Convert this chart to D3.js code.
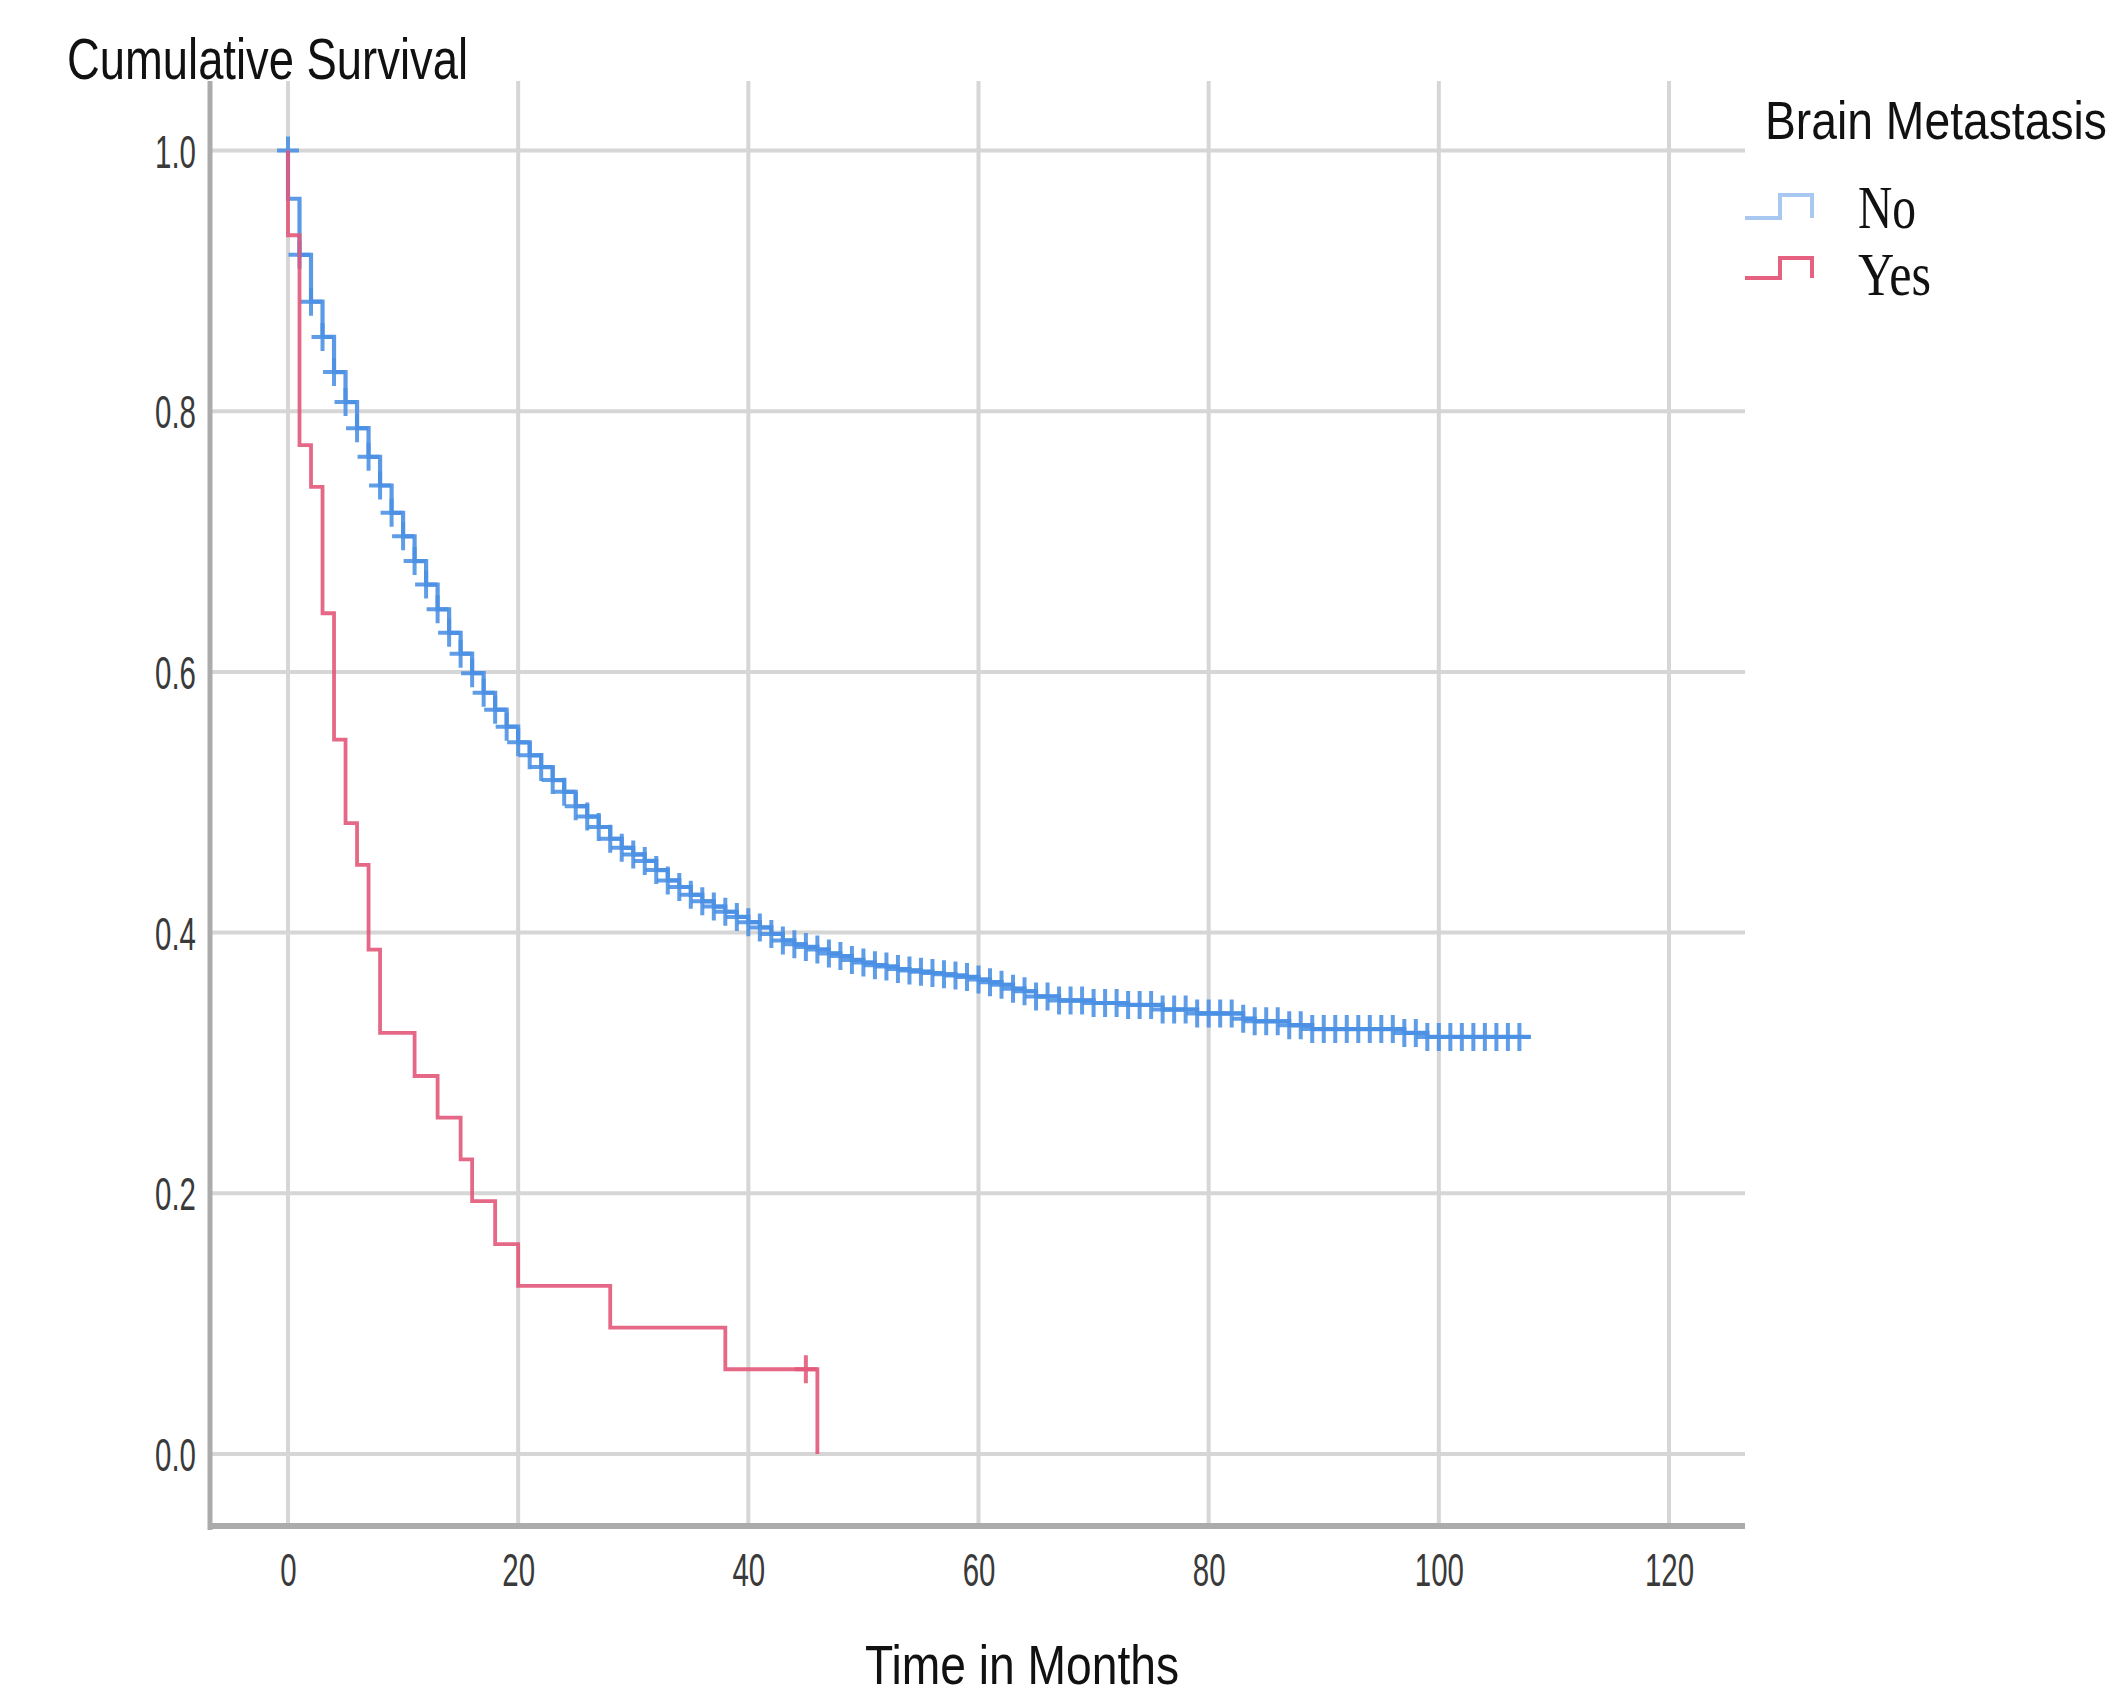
<!DOCTYPE html>
<html>
<head>
<meta charset="utf-8">
<script src="https://cdn.jsdelivr.net/npm/d3@7"></script>
<style>
  html, body { margin: 0; padding: 0; background: #fff; }
  svg { display: block; }
</style>
</head>
<body>
<div id="chart"></div>
<script>
// ── data ──
const xTicks = [0, 20, 40, 60, 80, 100, 120];
const yTicks = [0.0, 0.2, 0.4, 0.6, 0.8, 1.0];

// Brain Metastasis = Yes (step times, survival after step)
const yesTime = [0, 0, 1, 2, 3, 4, 5, 6, 7, 8, 11, 13, 15, 16, 18, 20, 28, 38, 46];
const yesSurv = [1.0, 0.935, 0.774, 0.742, 0.645, 0.548, 0.484, 0.452, 0.387, 0.323,
                 0.290, 0.258, 0.226, 0.194, 0.161, 0.129, 0.097, 0.065, 0.0];
const yesCensor = [45];

// Brain Metastasis = No (monthly steps)
const noTime = [0, 0, 1, 2, 3, 4, 5, 6, 7, 8, 9, 10, 11, 12, 13, 14, 15, 16, 17, 18, 19,
  20, 21, 22, 23, 24, 25, 26, 27, 28, 29, 30, 31, 32, 33, 34, 35, 36, 37, 38, 39,
  40, 41, 42, 43, 44, 45, 46, 47, 48, 49, 50, 51, 52, 53, 54, 55, 56, 57, 58, 59,
  60, 61, 62, 63, 64, 65, 67, 70, 73, 76, 79, 83, 84, 87, 89, 97, 99, 108];
const noSurv = [1.0, 0.963, 0.920, 0.884, 0.857, 0.830, 0.807, 0.787, 0.765, 0.743, 0.722,
  0.704, 0.685, 0.667, 0.648, 0.630, 0.614, 0.599, 0.584, 0.571, 0.558,
  0.546, 0.536, 0.527, 0.517, 0.508, 0.497, 0.489, 0.481, 0.472, 0.465,
  0.460, 0.455, 0.448, 0.440, 0.435, 0.429, 0.424, 0.420, 0.416, 0.412,
  0.408, 0.404, 0.399, 0.394, 0.391, 0.389, 0.387, 0.384, 0.382, 0.379,
  0.377, 0.375, 0.374, 0.372, 0.371, 0.370, 0.369, 0.368, 0.367, 0.366,
  0.364, 0.362, 0.360, 0.357, 0.355, 0.351, 0.348, 0.346, 0.3445, 0.341,
  0.338, 0.334, 0.332, 0.329, 0.326, 0.323, 0.320, 0.320];
const noCensor = [0, 1, 2, 3, 4, 5, 6, 7, 8, 9, 10, 11, 12, 13, 14, 15, 16, 17, 18, 19,
  20, 21, 22, 23, 24, 25, 26, 27, 28, 29, 30, 31, 32, 33, 34, 35, 36, 37, 38, 39,
  40, 41, 42, 43, 44, 45, 46, 47, 48, 49, 50, 51, 52, 53, 54, 55, 56, 57, 58, 59,
  60, 61, 62, 63, 64, 65, 66, 67, 68, 69, 70, 71, 72, 73, 74, 75, 76, 77, 78, 79,
  80, 81, 82, 83, 84, 85, 86, 87, 88, 89, 90, 91, 92, 93, 94, 95, 96, 97, 98, 99,
  100, 101, 102, 103, 104, 105, 106, 107];

const groups = ["No", "Yes"];
const colors = { No: "#4a8fe4", Yes: "#e2587a" };
const legendColors = { No: "#a9c8f1", Yes: "#e6607f" };

// ── layout ──
const W = 2116, H = 1687;
const svg = d3.select("#chart").append("svg").attr("width", W).attr("height", H);

const x = d3.scaleLinear().domain([0, 120]).range([288, 1669]);
const y = d3.scaleLinear().domain([0, 1]).range([1454, 150.5]);
const plotLeft = 210, plotRight = 1745, plotTop = 81, axisY = 1526;

// grid
const grid = svg.append("g").attr("stroke", "#d6d6d6").attr("stroke-width", 4);
grid.selectAll("line.v").data(xTicks).join("line").attr("class", "v")
  .attr("x1", (d) => x(d)).attr("x2", (d) => x(d))
  .attr("y1", plotTop).attr("y2", axisY);
grid.selectAll("line.h").data(yTicks).join("line").attr("class", "h")
  .attr("x1", plotLeft).attr("x2", plotRight)
  .attr("y1", (d) => y(d)).attr("y2", (d) => y(d));

// axis lines
svg.append("line").attr("x1", plotLeft).attr("x2", plotLeft)
  .attr("y1", plotTop).attr("y2", axisY + 4)
  .attr("stroke", "#ababab").attr("stroke-width", 5);
svg.append("line").attr("x1", plotLeft - 2).attr("x2", plotRight)
  .attr("y1", axisY).attr("y2", axisY)
  .attr("stroke", "#ababab").attr("stroke-width", 6);

// tick labels (condensed like the source)
const squeeze = 0.64;
const gx = svg.append("g").attr("transform", `translate(0,${axisY})`)
  .call(d3.axisBottom(x).tickValues(xTicks).tickSize(0).tickFormat(d3.format("d")));
gx.select(".domain").remove();
gx.selectAll("text")
  .attr("y", 60).attr("dy", 0)
  .attr("transform", `scale(${squeeze},1)`)
  .attr("font-family", "Liberation Sans, Arial, sans-serif")
  .attr("font-size", 46).attr("fill", "#3a3a3a");

const gy = svg.append("g").attr("transform", `translate(${plotLeft},0)`)
  .call(d3.axisLeft(y).tickValues(yTicks).tickSize(0).tickFormat(d3.format(".1f")));
gy.select(".domain").remove();
gy.selectAll("text")
  .attr("x", -14 / squeeze).attr("dy", "0.36em")
  .attr("transform", `scale(${squeeze},1)`)
  .attr("font-family", "Liberation Sans, Arial, sans-serif")
  .attr("font-size", 46).attr("fill", "#3a3a3a");

// ── survival curves ──
const step = d3.line().curve(d3.curveStepAfter).x((d) => x(d[0])).y((d) => y(d[1]));
const series = {
  No: { pts: d3.zip(noTime, noSurv), censor: noCensor },
  Yes: { pts: d3.zip(yesTime, yesSurv), censor: yesCensor }
};
const survAt = (pts, t) => {
  let s = pts[0][1];
  for (const [ti, si] of pts) { if (ti <= t) s = si; else break; }
  return s;
};

groups.forEach((g) => {
  const { pts, censor } = series[g];
  const layer = svg.append("g");
  layer.append("path").attr("d", step(pts))
    .attr("fill", "none").attr("stroke", colors[g])
    .attr("stroke-width", g === "No" ? 4.2 : 3.8)
    .attr("stroke-opacity", 0.9);
  layer.selectAll("path.c").data(censor).join("path").attr("class", "c")
    .attr("d", (t) => {
      const cx = x(t), cy = y(t === 0 ? 1 : survAt(pts, t));
      return `M${cx - 11},${cy}H${cx + 11}M${cx},${cy - 14}V${cy + 14}`;
    })
    .attr("fill", "none").attr("stroke", colors[g])
    .attr("stroke-width", 4).attr("stroke-opacity", 0.88);
});

// ── titles ──
svg.append("text").text("Cumulative Survival")
  .attr("x", 67).attr("y", 79)
  .attr("font-family", "Liberation Sans, Arial, sans-serif").attr("font-size", 58)
  .attr("textLength", 401).attr("lengthAdjust", "spacingAndGlyphs").attr("fill", "#111");

svg.append("text").text("Time in Months")
  .attr("x", 865).attr("y", 1684)
  .attr("font-family", "Liberation Sans, Arial, sans-serif").attr("font-size", 56)
  .attr("textLength", 314).attr("lengthAdjust", "spacingAndGlyphs").attr("fill", "#111");

// ── legend ──
svg.append("text").text("Brain Metastasis")
  .attr("x", 1765).attr("y", 139)
  .attr("font-family", "Liberation Sans, Arial, sans-serif").attr("font-size", 54)
  .attr("textLength", 342).attr("lengthAdjust", "spacingAndGlyphs").attr("fill", "#111");

const legendRows = [
  { key: "No", base: 218, top: 195, textY: 228, len: 58 },
  { key: "Yes", base: 278, top: 258, textY: 295, len: 73 }
];
legendRows.forEach((r) => {
  svg.append("path")
    .attr("d", `M1745,${r.base}H1780V${r.top}H1812V${r.base}`)
    .attr("fill", "none").attr("stroke", legendColors[r.key]).attr("stroke-width", 4);
  svg.append("text").text(r.key)
    .attr("x", 1858).attr("y", r.textY)
    .attr("font-family", "Liberation Serif, Times New Roman, serif").attr("font-size", 62)
    .attr("textLength", r.len).attr("lengthAdjust", "spacingAndGlyphs").attr("fill", "#111");
});
</script>
</body>
</html>
